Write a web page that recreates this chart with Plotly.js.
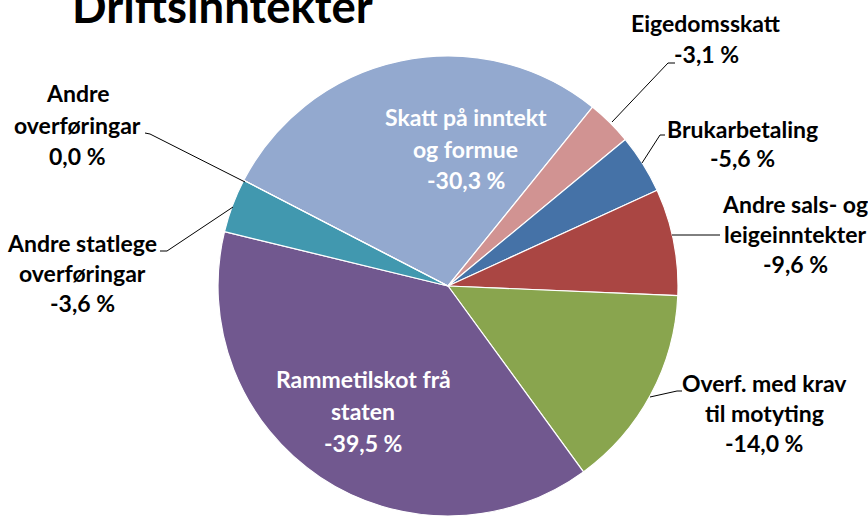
<!DOCTYPE html>
<html>
<head>
<meta charset="utf-8">
<script src="https://cdn.plot.ly/plotly-3.0.1.min.js"></script>
<style>html,body{margin:0;padding:0;background:#fff;}#chart{width:868px;height:525px;}</style>
</head>
<body>
<div id="chart"></div>
<script>
// ---- data ----
const categories = ["Skatt på inntekt og formue", "Eigedomsskatt", "Brukarbetaling", "Andre sals- og leigeinntekter", "Overf. med krav til motyting", "Rammetilskot frå staten", "Andre statlege overføringar", "Andre overføringar"];
const shares = [28.2, 3.2, 4.15, 7.5, 14.3, 38.8, 3.8, 0];
const pctLabels = ["-30,3 %", "-3,1 %", "-5,6 %", "-9,6 %", "-14,0 %", "-39,5 %", "-3,6 %", "0,0 %"];
const labelLines = [["Skatt på inntekt", "og formue"], ["Eigedomsskatt"], ["Brukarbetaling"], ["Andre sals- og", "leigeinntekter"], ["Overf. med krav", "til motyting"], ["Rammetilskot frå", "staten"], ["Andre statlege", "overføringar"], ["Andre", "overføringar"]];
const chartTitle = "Driftsinntekter";

// ---- styling / layout ----
const colors = ["#93A9CF", "#D19392", "#4572A7", "#AA4643", "#89A54E", "#71588F", "#4198AF", "#B5CA92"];
const W = 868, H = 525;
const FONT = "Lato, 'Open Sans', sans-serif";
const LS = 23;
const TS = 45.5;
// label placement in pixels: center x, first baseline, line step, colour
const place = [
  {cx: 466, b0: 126, step: 31.5, col: "#ffffff"},
  {cx: 706, b0: 32, step: 31, col: "#000000"},
  {cx: 742, b0: 138, step: 29, col: "#000000"},
  {cx: 795, b0: 213, step: 30, col: "#000000"},
  {cx: 764, b0: 392, step: 30, col: "#000000"},
  {cx: 363, b0: 388, step: 32, col: "#ffffff"},
  {cx: 82, b0: 252, step: 30, col: "#000000"},
  {cx: 77.5, b0: 102, step: 31.5, col: "#000000"}
];
const leaders = [
  null,
  [[612,122],[668,63],[675,63]],
  [[642,163],[660,135],[665,135]],
  [[672,235],[720,235]],
  [[650,397],[677,391],[682,391]],
  null,
  [[233,207],[167,251],[160,251]],
  [[245,182],[150,134],[145,133]]
];

const px = (x) => x / W;
const py = (y) => 1 - y / H;

const annotations = [];
categories.forEach((c, i) => {
  const lines = labelLines[i].concat([pctLabels[i]]);
  const p = place[i];
  lines.forEach((t, k) => {
    const base = p.b0 + k * p.step;
    annotations.push({
      text: "<b>" + t + "</b>", showarrow: false,
      xref: "paper", yref: "paper", x: px(p.cx), y: py(base - 0.387 * LS),
      xanchor: "center", yanchor: "middle",
      font: {family: FONT, size: LS, color: p.col}
    });
  });
});
annotations.push({
  text: "<b>" + chartTitle + "</b>", showarrow: false,
  xref: "paper", yref: "paper", x: px(222.5), y: py(23 - 0.387 * TS),
  xanchor: "center", yanchor: "middle",
  font: {family: FONT, size: TS, color: "#000000"}
});

const shapes = leaders.filter(l => l).map(l => ({
  type: "path", xref: "paper", yref: "paper",
  path: l.map((pt, k) => (k ? "L" : "M") + px(pt[0]) + "," + py(pt[1])).join(" "),
  line: {color: "#000000", width: 1}
}));

const cx = 448, cy = 286, r = 230;
const trace = {
  type: "pie",
  labels: categories,
  values: shares,
  sort: false,
  direction: "clockwise",
  rotation: -62.65,
  textinfo: "none",
  hoverinfo: "label+percent",
  marker: {colors: colors, line: {color: "#ffffff", width: 1.2}},
  domain: {x: [px(cx - r), px(cx + r)], y: [py(cy + r), py(cy - r)]},
  showlegend: false
};

Plotly.newPlot("chart", [trace], {
  width: W, height: H,
  margin: {l: 0, r: 0, t: 0, b: 0},
  paper_bgcolor: "#ffffff",
  showlegend: false,
  annotations: annotations,
  shapes: shapes
}, {staticPlot: true});
</script>
</body>
</html>
